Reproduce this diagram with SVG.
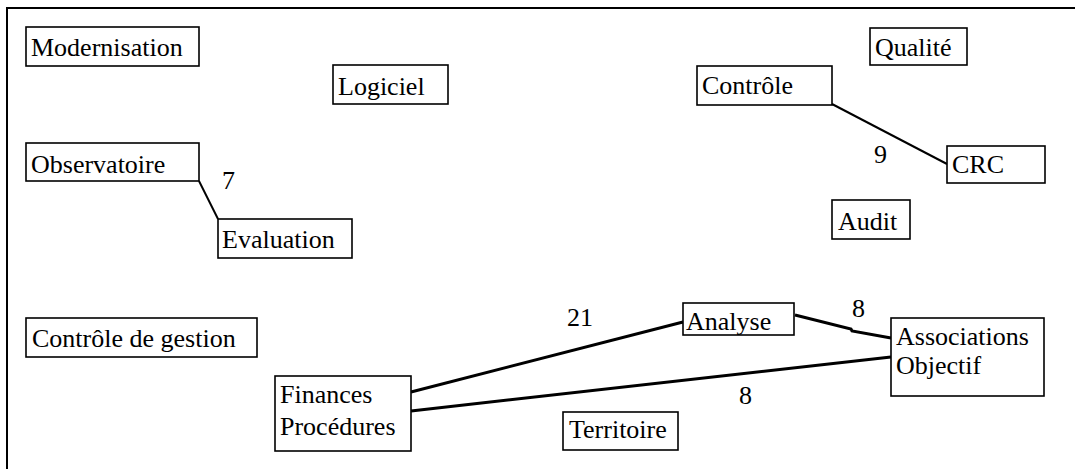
<svg xmlns="http://www.w3.org/2000/svg" width="1075" height="469" viewBox="0 0 1075 469">
<style>
.box{fill:#fff;stroke:#000;stroke-width:1.6}
.t{font-family:'Liberation Serif','DejaVu Serif',serif;font-size:26px;fill:#000}
.thin{stroke:#000;stroke-width:2;fill:none}
.thick{stroke:#000;stroke-width:3;fill:none}
</style>
<rect width="1075" height="469" fill="#fff"/>
<path d="M7,469 V8 H1075" fill="none" stroke="#000" stroke-width="2"/>
<g id="connectors">
<line class="thin" x1="199" y1="181" x2="218" y2="219"/>
<line class="thin" x1="832" y1="104" x2="947" y2="164"/>
<line class="thick" x1="411" y1="392" x2="683" y2="322"/>
<polyline class="thick" points="795,315 851,329 852,331 891,338"/>
<line class="thick" x1="411" y1="411" x2="891" y2="357"/>
<text class="t" x="222" y="189" font-family="Liberation Serif, serif">7</text>
<text class="t" x="874" y="163">9</text>
<text class="t" x="567" y="326">21</text>
<text class="t" x="852" y="317">8</text>
<text class="t" x="739" y="404">8</text>
</g>
<g id="modernisation"><rect class="box" x="26" y="27" width="173" height="39"/><text class="t" x="31" y="56">Modernisation</text></g>
<g id="logiciel"><rect class="box" x="333" y="65" width="115" height="39"/><text class="t" x="338" y="95">Logiciel</text></g>
<g id="observatoire"><rect class="box" x="26" y="143" width="173" height="38"/><text class="t" x="31" y="173">Observatoire</text></g>
<g id="evaluation"><rect class="box" x="218" y="219" width="134" height="39"/><text class="t" x="222" y="248">Evaluation</text></g>
<g id="qualite"><rect class="box" x="870" y="28" width="97" height="37"/><text class="t" x="875" y="56">Qualité</text></g>
<g id="controle"><rect class="box" x="697" y="66" width="135" height="39"/><text class="t" x="702" y="94">Contrôle</text></g>
<g id="crc"><rect class="box" x="947" y="146" width="98" height="37"/><text class="t" x="952" y="173">CRC</text></g>
<g id="audit"><rect class="box" x="832" y="200" width="78" height="39"/><text class="t" x="838" y="230">Audit</text></g>
<g id="controle-gestion"><rect class="box" x="26" y="318" width="231" height="39"/><text class="t" x="32" y="347">Contrôle de gestion</text></g>
<g id="finances"><rect class="box" x="275" y="376" width="136" height="75"/><text class="t" x="280" y="403">Finances</text><text class="t" x="280" y="435">Procédures</text></g>
<g id="analyse"><rect class="box" x="683" y="303" width="111" height="32"/><text class="t" x="686" y="330">Analyse</text></g>
<g id="associations"><rect class="box" x="891" y="318" width="153" height="78"/><text class="t" x="896" y="345">Associations</text><text class="t" x="896" y="374">Objectif</text></g>
<g id="territoire"><rect class="box" x="563" y="412" width="115" height="38"/><text class="t" x="569" y="438">Territoire</text></g>
</svg>
